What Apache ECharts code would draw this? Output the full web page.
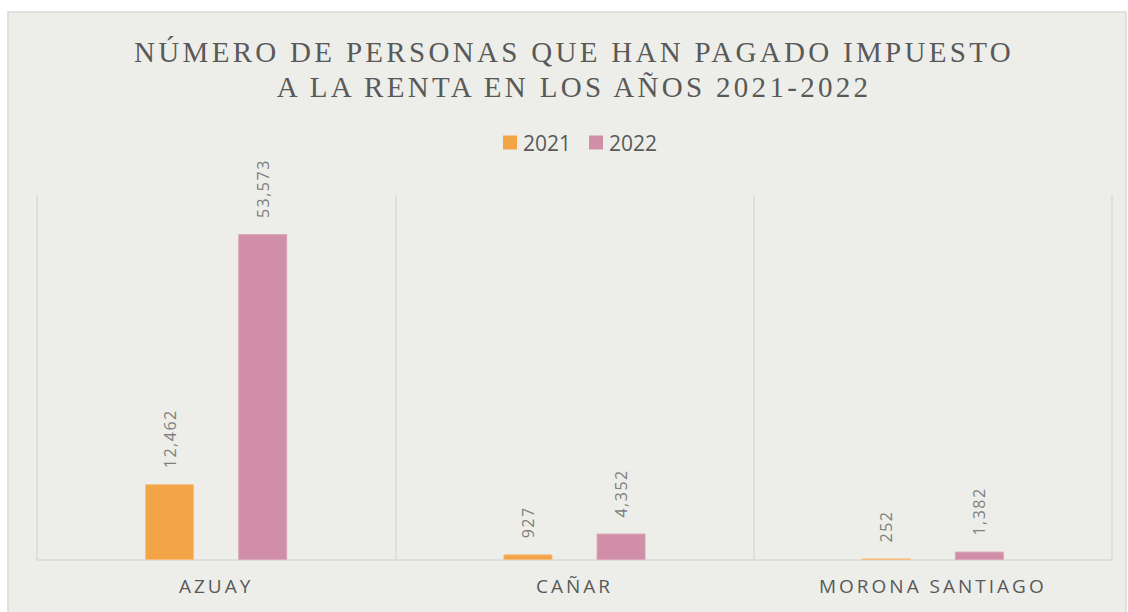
<!DOCTYPE html>
<html>
<head>
<meta charset="utf-8">
<title>Impuesto a la renta 2021-2022</title>
<script src="https://cdn.jsdelivr.net/npm/echarts@6/dist/echarts.min.js"></script>
<style>
  html, body { margin: 0; padding: 0; background: #ffffff; }
  #chart { width: 1128px; height: 612px; }
</style>
</head>
<body>
<div id="chart"></div>
<script>
// datos
const provincias = ["AZUAY", "CAÑAR", "MORONA SANTIAGO"];
const anios = ["2021", "2022"];
const valores2021 = [12462, 927, 252];
const valores2022 = [53573, 4352, 1382];

const lineasTitulo = ["NÚMERO DE PERSONAS QUE HAN PAGADO IMPUESTO", "A LA RENTA EN LOS AÑOS 2021-2022"];
const colores = ["#F3A446", "#D08FA6"];

function etiqueta(p) {
  return Number(p.value).toLocaleString("en-US");
}

function serie(nombre, datos, color, borde) {
  return {
    name: nombre,
    type: "bar",
    data: datos,
    barWidth: 49,
    barGap: "90%",
    itemStyle: {
      color: color,
      borderColor: borde,
      borderWidth: 1
    },
    label: {
      show: true,
      position: "top",
      rotate: 90,
      align: "left",
      verticalAlign: "middle",
      distance: 16,
      fontFamily: "Open Sans",
      fontSize: 16,
      color: "#7f7f7f",
      formatter: etiqueta
    }
  };
}

// el grafico de Excel usa espaciado entre letras; se aplica al texto SVG
function espaciado() {
  const etiquetas = valores2021.concat(valores2022).map(function (v) { return v.toLocaleString("en-US"); });
  document.querySelectorAll("#chart text").forEach(function (t) {
    const s = t.textContent;
    if (lineasTitulo.indexOf(s) >= 0) t.style.letterSpacing = "3.3px";
    else if (provincias.indexOf(s) >= 0) t.style.letterSpacing = "3px";
    else if (etiquetas.indexOf(s) >= 0) t.style.letterSpacing = "1.5px";
  });
}

let myChart = echarts.init(document.getElementById("chart"), null, { renderer: "svg" });
myChart.on("finished", espaciado);
myChart.setOption({
  backgroundColor: "#ffffff",
  animation: false,
  graphic: [
    {
      type: "rect",
      z: -100,
      shape: { x: 8, y: 12, width: 1118, height: 620 },
      style: { fill: "#EDEEE9", stroke: "#D9D9D9", lineWidth: 1.5 }
    }
  ],
  title: {
    text: lineasTitulo.join("\n"),
    left: 569,
    top: 29,
    textAlign: "center",
    textStyle: {
      fontFamily: "Liberation Serif",
      fontWeight: "normal",
      fontSize: 29,
      lineHeight: 35,
      color: "#595959"
    }
  },
  legend: {
    data: anios,
    left: 503,
    top: 132,
    padding: 0,
    itemWidth: 14,
    itemHeight: 14,
    itemGap: 18,
    icon: "rect",
    itemStyle: { borderWidth: 0 },
    textStyle: {
      fontFamily: "Open Sans",
      fontSize: 21,
      color: "#595959",
      padding: [0, 0, 0, 1]
    }
  },
  grid: {
    left: 37,
    right: 16,
    top: 195,
    bottom: 52,
    containLabel: false
  },
  xAxis: {
    type: "category",
    data: provincias,
    axisTick: { show: false },
    axisLine: { lineStyle: { color: "#D9D9D9", width: 1.5 } },
    splitLine: { show: true, lineStyle: { color: "#D9D9D9", width: 1.5 } },
    axisLabel: {
      margin: 16,
      fontFamily: "Open Sans",
      fontSize: 19,
      color: "#595959"
    }
  },
  yAxis: {
    type: "value",
    min: 0,
    max: 60000,
    interval: 10000,
    show: false,
    splitLine: { show: false }
  },
  series: [
    serie(anios[0], valores2021, colores[0], "#F6BE7E"),
    serie(anios[1], valores2022, colores[1], "#DBA7BA")
  ]
});
espaciado();
</script>
</body>
</html>
